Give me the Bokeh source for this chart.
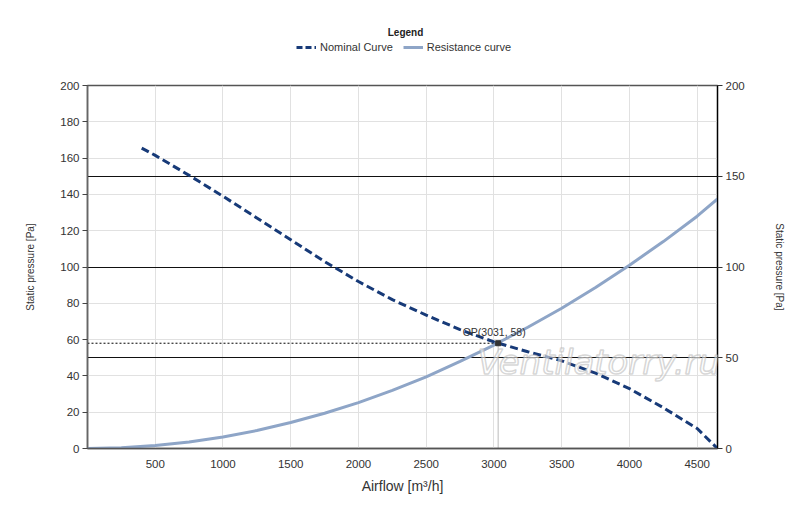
from bokeh.plotting import figure
from bokeh.layouts import column
from bokeh.models import (Legend, LegendItem, LinearAxis, FixedTicker, Grid, Label,
                          Range1d, ColumnDataSource)
from bokeh.embed import file_html
from bokeh.resources import INLINE
from bokeh.core.properties import value

# ---- data ----
nominal_airflow = [400, 500, 750, 1000, 1250, 1500, 1750, 2000, 2250, 2500, 2750,
                   3000, 3250, 3500, 3750, 4000, 4250, 4500, 4650]
nominal_pressure = [165.5, 161.5, 150.5, 139, 127, 115, 103, 92, 82, 73.5, 65.5,
                    58.7, 53.3, 48.3, 41.5, 33, 22.5, 11, 0]

resistance_airflow = [0, 250, 500, 750, 1000, 1250, 1500, 1750, 2000, 2250, 2500,
                      2750, 3000, 3250, 3500, 3750, 4000, 4250, 4500, 4650]
resistance_pressure = [0, 0.4, 1.6, 3.6, 6.3, 9.9, 14.3, 19.4, 25.3, 32, 39.5,
                       48, 57, 66.8, 77.3, 88.7, 101, 114, 128, 137.5]

op_airflow = 3031
op_pressure = 58
op_label = "OP(3031, 58)"

x_ticks = [500, 1000, 1500, 2000, 2500, 3000, 3500, 4000, 4500]
y_left_ticks = [0, 20, 40, 60, 80, 100, 120, 140, 160, 180, 200]
y_right_ticks = [0, 50, 100, 150, 200]
y_right_grid = [50, 100, 150]
x_max = 4650
y_max = 200

series_names = ["Nominal Curve", "Resistance curve"]
legend_title = "Legend"
x_label = "Airflow [m³/h]"
y_label = "Static pressure [Pa]"
watermark = "Ventilatorry.ru"

FONT = "Liberation Sans"
NAVY = "#173a78"
STEEL = "#8ea5c7"
GRID = "#e1e1e1"
TXT = "#333333"

W = 792
TOP_H = 77
FRAME_W = 630
FRAME_H = 363
LEFT = 87

# ---------------- main chart ----------------
p = figure(frame_width=FRAME_W, frame_height=FRAME_H, output_backend="svg",
           toolbar_location=None,
           x_range=Range1d(0, x_max), y_range=Range1d(0, y_max),
           min_border_left=LEFT, min_border_right=W - LEFT - FRAME_W,
           min_border_top=8, min_border_bottom=51,
           background_fill_color="white", border_fill_color="white")
p.outline_line_color = "#555555"
p.outline_line_width = 1.5

xa = p.xaxis[0]
xa.ticker = FixedTicker(ticks=x_ticks)
xa.axis_label = x_label
xa.axis_label_text_font = FONT
xa.axis_label_text_font_size = "14px"
xa.axis_label_text_font_style = "normal"
xa.axis_label_text_color = TXT
xa.axis_label_standoff = 7
xa.major_label_text_font = FONT
xa.major_label_text_font_size = "11.5px"
xa.major_label_text_color = TXT
xa.axis_line_color = "#555555"
xa.axis_line_width = 1.5
xa.major_tick_line_color = None
xa.minor_tick_line_color = None
xa.major_label_standoff = 5

ya = p.yaxis[0]
ya.ticker = FixedTicker(ticks=y_left_ticks)
ya.axis_label = y_label
ya.axis_label_text_font = FONT
ya.axis_label_text_font_size = "10px"
ya.axis_label_text_font_style = "normal"
ya.axis_label_text_color = TXT
ya.axis_label_standoff = 21
ya.major_label_text_font = FONT
ya.major_label_text_font_size = "11.5px"
ya.major_label_text_color = TXT
ya.axis_line_color = "#666666"
ya.axis_line_width = 1.5
ya.major_tick_line_color = "#444444"
ya.major_tick_out = 5
ya.major_tick_in = 0
ya.minor_tick_line_color = None
ya.major_label_standoff = 3

ra = LinearAxis(ticker=FixedTicker(ticks=y_right_ticks), axis_label=y_label)
ra.axis_label_text_font = FONT
ra.axis_label_text_font_size = "10px"
ra.axis_label_text_font_style = "normal"
ra.axis_label_text_color = TXT
ra.axis_label_standoff = 26
ra.major_label_text_font = FONT
ra.major_label_text_font_size = "11.5px"
ra.major_label_text_color = TXT
ra.axis_line_color = "black"
ra.axis_line_width = 1.2
ra.major_tick_line_color = "#333333"
ra.major_tick_out = 5
ra.major_tick_in = 0
ra.minor_tick_line_color = None
ra.major_label_standoff = 3
p.add_layout(ra, "right")

p.xgrid[0].ticker = FixedTicker(ticks=x_ticks)
p.xgrid[0].grid_line_color = GRID
p.ygrid[0].ticker = FixedTicker(ticks=y_left_ticks)
p.ygrid[0].grid_line_color = GRID
p.add_layout(Grid(dimension=1, ticker=FixedTicker(ticks=y_right_grid),
                  grid_line_color="#111111", grid_line_width=1))

# watermark
p.add_layout(Label(x=2878, y=47.5, text=watermark, text_font="DejaVu Sans",
                   text_font_size="34px", text_font_style="italic",
                   text_baseline="alphabetic",
                   text_color="white", text_alpha=0.55,
                   text_outline_color="#b5b5b5"))

op_src = ColumnDataSource(dict(x=[op_airflow], y=[op_pressure], label=[op_label],
                               x0=[0], y0=[0]))
p.segment(x0="x0", y0="y", x1="x", y1="y", source=op_src, line_color="black",
          line_width=1, line_dash="2 2")
p.segment(x0="x", y0="y0", x1="x", y1="y", source=op_src, line_color="#777777",
          line_width=1, line_dash="1 1")

p.line(resistance_airflow, resistance_pressure, line_color=STEEL, line_width=3)
p.line(nominal_airflow, nominal_pressure, line_color=NAVY, line_width=3,
       line_dash="8 4")

p.scatter(x="x", y="y", source=op_src, marker="square", size=5, color="#333333")
p.text(x="x", y="y", text="label", source=op_src, text_font=value(FONT),
       text_font_size="10.5px", text_color="#333333", text_align="center",
       text_baseline="bottom", x_offset=-4, y_offset=-5)

# ---------------- legend strip ----------------
lg = figure(width=W, height=TOP_H, output_backend="svg", toolbar_location=None,
            x_range=Range1d(0, 1), y_range=Range1d(0, 1),
            min_border=0, background_fill_color="white", border_fill_color="white")
lg.axis.visible = False
lg.grid.visible = False
lg.outline_line_color = None

# key-only renderers (their points lie outside the strip's visible range)
nom_key = lg.line(x=[5, 6], y=[5, 6], line_color=NAVY, line_width=3, line_dash="6 3")
res_key = lg.line(x=[5, 6], y=[5, 6], line_color=STEEL, line_width=3)

lg.add_layout(Label(x=405 - LEFT, y=TOP_H - 32, x_units="screen", y_units="screen",
                    text=legend_title, text_font=FONT, text_font_size="10px",
                    text_font_style="bold", text_color="#222222",
                    text_align="center", text_baseline="middle"))

legend = Legend(items=[LegendItem(label=series_names[0], renderers=[nom_key]),
                       LegendItem(label=series_names[1], renderers=[res_key])],
                orientation="horizontal", location=(296 - LEFT, TOP_H - 53),
                label_text_font=FONT, label_text_font_size="11px",
                label_text_color=TXT, border_line_color=None,
                background_fill_alpha=0, glyph_width=20, glyph_height=10,
                spacing=10, padding=0, margin=0, label_standoff=4,
                label_height=12)
lg.add_layout(legend, "center")

open("out.html", "w").write(file_html(column(lg, p, spacing=0), INLINE))
